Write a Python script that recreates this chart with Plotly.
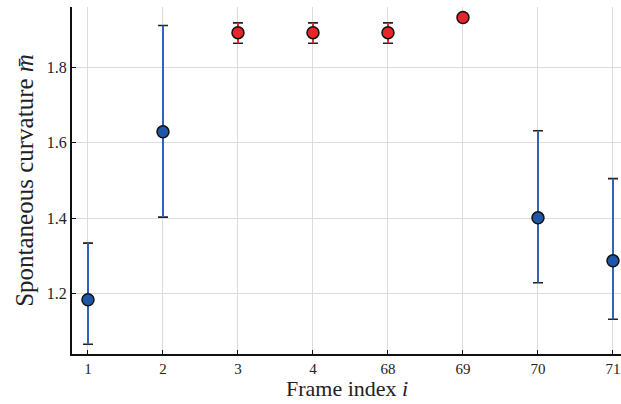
import plotly.graph_objects as go

frames = ["1", "2", "3", "4", "68", "69", "70", "71"]
m_mean = [1.184, 1.629, 1.892, 1.892, 1.892, 1.932, 1.401, 1.287]
m_upper = [1.334, 1.911, 1.918, 1.918, 1.918, 1.935, 1.632, 1.505]
m_lower = [1.066, 1.403, 1.864, 1.864, 1.864, 1.929, 1.229, 1.132]
is_red = [False, False, True, True, True, True, False, False]

BLUE_LINE = "#2f62b8"
BLUE_FILL = "#1f56a5"
RED_LINE = "#e8262a"
RED_FILL = "#e8262a"

fig = go.Figure()

for red in (False, True):
    xs = [f for f, r in zip(frames, is_red) if r == red]
    ys = [v for v, r in zip(m_mean, is_red) if r == red]
    up = [u - v for u, v, r in zip(m_upper, m_mean, is_red) if r == red]
    lo = [v - l for l, v, r in zip(m_lower, m_mean, is_red) if r == red]
    line_c = RED_LINE if red else BLUE_LINE
    fill_c = RED_FILL if red else BLUE_FILL
    # black caps
    fig.add_trace(go.Scatter(
        x=xs, y=ys, mode="markers", marker=dict(size=0.1, opacity=0),
        error_y=dict(type="data", symmetric=False, array=up, arrayminus=lo,
                     color="#222222", thickness=1.6, width=5),
        showlegend=False, hoverinfo="skip"))
    # coloured bars
    fig.add_trace(go.Scatter(
        x=xs, y=ys, mode="markers",
        marker=dict(size=12, color=fill_c, line=dict(color="#111111", width=1.5)),
        error_y=dict(type="data", symmetric=False, array=up, arrayminus=lo,
                     color=line_c, thickness=2, width=0),
        showlegend=False))

font_family = "Liberation Serif"
fig.update_layout(
    width=621, height=404,
    margin=dict(l=72, r=0, t=7, b=50),
    paper_bgcolor="white", plot_bgcolor="white",
    font=dict(family=font_family, color="#222222", size=15),
)
fig.update_xaxes(
    type="category", categoryorder="array", categoryarray=frames,
    range=[-0.213, 7.107],
    showgrid=True, gridcolor="#dcdcdc", gridwidth=1,
    showline=True, linecolor="#111111", linewidth=2,
    ticks="inside", ticklen=4, tickcolor="#111111",
    tickfont=dict(size=15, family=font_family),
    zeroline=False,
)
fig.add_annotation(
    text="Frame index <i>i</i>", xref="paper", yref="paper",
    x=0.5, y=0, xanchor="center", yanchor="bottom", yshift=-49,
    showarrow=False, font=dict(size=22, family=font_family, color="#222222"),
)
fig.update_yaxes(
    range=[1.04, 1.96],
    tickvals=[1.2, 1.4, 1.6, 1.8], ticktext=["1.2", "1.4", "1.6", "1.8"],
    showgrid=True, gridcolor="#dcdcdc", gridwidth=1,
    showline=True, linecolor="#111111", linewidth=2,
    ticks="inside", ticklen=4, tickcolor="#111111",
    tickfont=dict(size=16, family=font_family),
    title=dict(text="Spontaneous curvature <i>m\u0304</i>", font=dict(size=25, family=font_family), standoff=6),
    zeroline=False,
)

fig.write_html("out.html", config={"displayModeBar": False},
               post_script="document.body.style.margin='0';")
